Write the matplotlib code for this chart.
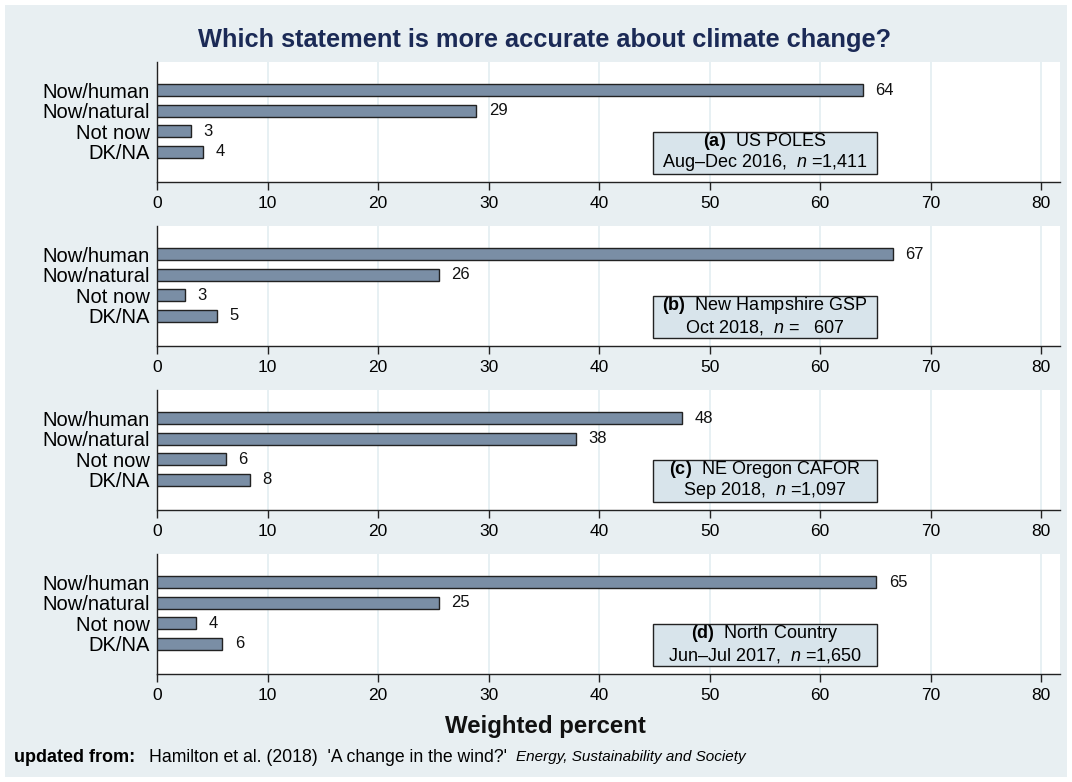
import matplotlib
matplotlib.use("Agg")
import matplotlib.pyplot as plt
from matplotlib.patches import Rectangle
import matplotlib.transforms as mtransforms

plt.rcParams['font.family'] = ['Liberation Sans', 'DejaVu Sans']
plt.rcParams['mathtext.fontset'] = 'custom'
plt.rcParams['mathtext.it'] = 'Liberation Sans:italic'
plt.rcParams['mathtext.rm'] = 'Liberation Sans'
plt.rcParams['mathtext.bf'] = 'Liberation Sans:bold'

categories = ["Now/human", "Now/natural", "Not now", "DK/NA"]
vals_a = [63.9, 28.9, 3.1, 4.2]
vals_b = [66.6, 25.5, 2.5, 5.4]
vals_c = [47.5, 37.9, 6.2, 8.4]
vals_d = [65.1, 25.5, 3.5, 5.9]
labels_a = ["64", "29", "3", "4"]
labels_b = ["67", "26", "3", "5"]
labels_c = ["48", "38", "6", "8"]
labels_d = ["65", "25", "4", "6"]
box_titles = ["(a)", "(b)", "(c)", "(d)"]
box_names = ["US POLES", "New Hampshire GSP", "NE Oregon CAFOR", "North Country"]
box_dates = ["Aug\u2013Dec 2016,", "Oct 2018,", "Sep 2018,", "Jun\u2013Jul 2017,"]
box_n = ["=1,411", "=   607", "=1,097", "=1,650"]
xticks = [0, 10, 20, 30, 40, 50, 60, 70, 80]

W, H = 1072, 782
fig = plt.figure(figsize=(W / 100, H / 100), dpi=100)
fig.patch.set_facecolor('white')
bg = '#e8eff2'
fig.add_artist(Rectangle((5 / W, 5 / H), (W - 10) / W, (H - 10) / H,
                         transform=fig.transFigure, facecolor=bg,
                         edgecolor='none', zorder=-10))

left_px, right_px = 157, 1060
tops = [62, 226, 390, 554]
ph = 120
pxu = 11.05
xmax = (right_px - left_px) / pxu

series = [vals_a, vals_b, vals_c, vals_d]
lbls = [labels_a, labels_b, labels_c, labels_d]
ypos = list(range(len(categories)))

for i, top in enumerate(tops):
    ax = fig.add_axes([left_px / W, 1 - (top + ph) / H,
                       (right_px - left_px) / W, ph / H])
    ax.set_facecolor('white')
    ax.barh(ypos, series[i], height=0.58, color='#7a8ea5',
            edgecolor='#222222', linewidth=1.0, zorder=3)
    for y, v, t in zip(ypos, series[i], lbls[i]):
        ax.annotate(t, xy=(v, y), xytext=(9, 0), textcoords='offset points',
                    va='center', ha='left', fontsize=12, color='#111111')
    ax.set_xlim(0, xmax)
    ax.set_ylim(3 + 1.46, -1.37)
    ax.set_yticks(ypos)
    ax.set_yticklabels(categories, fontsize=14.5)
    ax.tick_params(axis='y', length=0, pad=5)
    ax.set_xticks(xticks)
    ax.tick_params(axis='x', labelsize=12.5, length=6, width=1, pad=4,
                   color='#222222')
    ax.grid(axis='x', color='#e3edf1', linewidth=1.2, zorder=0)
    ax.set_axisbelow(True)
    for s in ['top', 'right']:
        ax.spines[s].set_visible(False)
    for s in ['left', 'bottom']:
        ax.spines[s].set_color('#222222')
        ax.spines[s].set_linewidth(1.0)
    trans = mtransforms.blended_transform_factory(ax.transData, ax.transAxes)
    line1 = f"$\\mathbf{{{box_titles[i]}}}$  {box_names[i]}"
    line2 = f"{box_dates[i]}  $n$ {box_n[i]}"
    ax.text(55, 0.075, line2, transform=trans, ha='center', va='bottom',
            fontsize=13, zorder=6)
    ax.text(55, 0.075 + 0.172, line1, transform=trans, ha='center',
            va='bottom', fontsize=13, zorder=6)
    ax.add_patch(Rectangle((55 - 112 / pxu, 8 / ph), 224 / pxu, 42 / ph,
                           transform=trans, facecolor='#d8e4eb',
                           edgecolor='#222222', linewidth=1.0, zorder=5,
                           clip_on=False))

fig.text(545 / W, 1 - 40 / H, "Which statement is more accurate about climate change?",
         ha='center', va='center', fontsize=18.3, fontweight='bold',
         color='#1b2a56')
fig.text(545 / W, 1 - 727 / H, "Weighted percent", ha='center', va='center',
         fontsize=17.3, fontweight='bold', color='#111111')
fig.text(14 / W, 1 - 757 / H, "updated from:", ha='left', va='center',
         fontsize=13, fontweight='bold')
fig.text(149 / W, 1 - 757 / H,
         "Hamilton et al. (2018)  'A change in the wind?'", ha='left',
         va='center', fontsize=12.7)
fig.text(516 / W, 1 - 757 / H, "Energy, Sustainability and Society",
         ha='left', va='center', fontsize=11, style='italic')

fig.savefig("out.png", dpi=100, facecolor=fig.get_facecolor())
